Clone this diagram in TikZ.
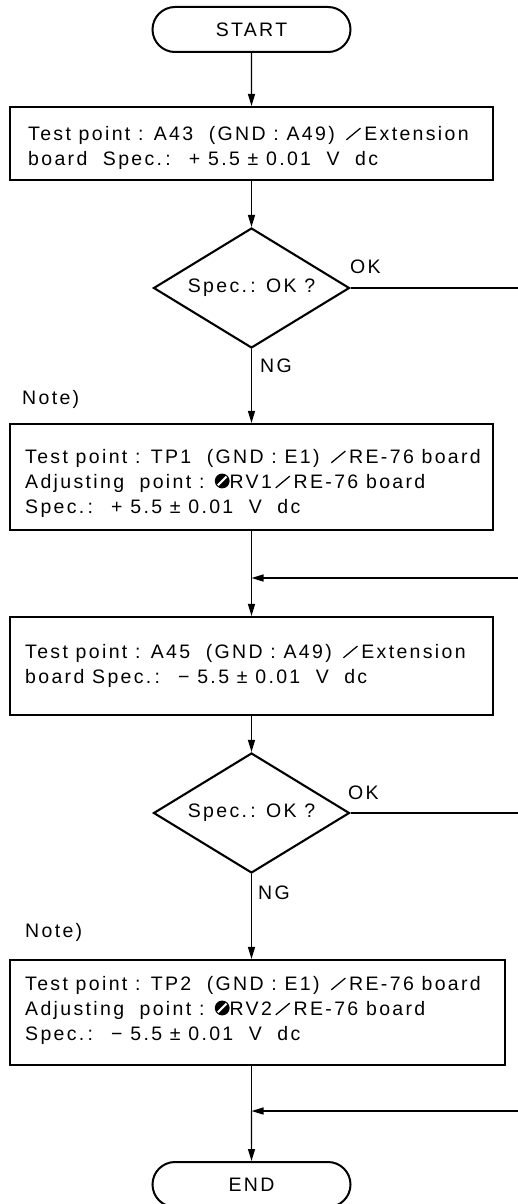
\documentclass[tikz,border=0pt]{standalone}
\usepackage{fontspec}
\setmainfont{Liberation Sans}[LetterSpace=12]
\usetikzlibrary{shapes.geometric,shapes.misc,arrows.meta}
\newcommand\adjsym{\tikz[baseline=-0.37em]{\fill[black] (0,0) circle (0.38em); \draw[white,line width=0.11em] (-0.22em,-0.22em)--(0.22em,0.22em);}}
\newcommand\wsl{\,\tikz[baseline=0pt]{\draw[line width=0.065em] (0,0.02em)--(0.72em,0.62em);}\,}
\newcommand\fl{\rule{0pt}{15pt}}
\begin{document}
\begin{tikzpicture}[x=1pt,y=-1pt,
  every node/.style={font=\fontsize{19.5}{25}\selectfont},
  term/.style={draw, line width=2pt, rounded rectangle, minimum width=198pt, minimum height=45pt, inner sep=0},
  box/.style={draw, line width=2.1pt, rectangle, inner sep=0},
  dec/.style={draw, line width=2.1pt, diamond, aspect=1.633, minimum width=196pt, minimum height=120pt, inner sep=0},
  flow/.style={line width=1.3pt},
  arr/.style={flow, -{Triangle[length=12pt,width=7pt]}},
  txt/.style={anchor=north west, inner sep=0, align=left},
  lbl/.style={anchor=base west, inner sep=0}]
\clip (0,0) rectangle (518,1204);
% nodes
\node[term] (start) at (251.5,29.5) {START};
\node[box, minimum width=483pt, minimum height=73pt] (b1) at (251.5,143.5) {};
\node[txt] (t1) at (28,125) {\fl Test point : A43 \ (GND : A49) \wsl Extension\\board \ Spec.\,: \ + 5.5 ± 0.01 \ V \ dc};
\node[dec] (d1) at (251.5,288) {Spec.\,: OK ?};
\node[lbl] (ok1l) at (350,273) {OK};
\node[lbl] (ng1l) at (260,372) {NG};
\node[lbl] (note1) at (22,404) {Note)};
\node[box, minimum width=483pt, minimum height=106pt] (b2) at (251.5,477) {};
\node[txt] (t2) at (25,448) {\fl Test point : TP1 \ (GND : E1) \wsl RE-76 board\\Adjusting \ point : \adjsym RV1\wsl RE-76 board\\Spec.\,: \ + 5.5 ± 0.01 \ V \ dc};
\node[box, minimum width=483pt, minimum height=98pt] (b3) at (251.5,666) {};
\node[txt] (t3) at (25,643) {\fl Test point : A45 \ (GND : A49) \wsl Extension\\board Spec.\,: \ − 5.5 ± 0.01 \ V \ dc};
\node[dec] (d2) at (251.5,813) {Spec.\,: OK ?};
\node[lbl] (ok2l) at (348,799) {OK};
\node[lbl] (ng2l) at (258,899) {NG};
\node[lbl] (note2) at (25,937) {Note)};
\node[box, minimum width=495pt, minimum height=105pt] (b4) at (257.5,1012.5) {};
\node[txt] (t4) at (25,975) {\fl Test point : TP2 \ (GND : E1) \wsl RE-76 board\\Adjusting \ point : \adjsym RV2\wsl RE-76 board\\Spec.\,: \ − 5.5 ± 0.01 \ V \ dc};
\node[term] (end) at (251.5,1184.5) {END};
% coordinates
\coordinate (ok1) at (518,288);
\coordinate (ret1) at (518,578);
\coordinate (m1) at (251.5,578);
\coordinate (ok2) at (518,813);
\coordinate (ret2) at (518,1111);
\coordinate (m2) at (251.5,1111);
% connectors
\draw[arr] (start) -- (b1);
\draw[arr] (b1) -- (d1);
\draw[arr] (d1) -- (b2);
\draw[flow] (d1.east) -- (ok1);
\draw[flow] (b2) -- (m1);
\draw[arr] (ret1) -- (m1);
\draw[arr] (m1) -- (b3);
\draw[arr] (b3) -- (d2);
\draw[arr] (d2.south) -- (d2.south |- b4.north);
\draw[flow] (d2.east) -- (ok2);
\draw[flow] (d2.south |- b4.south) -- (m2);
\draw[arr] (ret2) -- (m2);
\draw[arr] (m2) -- (end);
\end{tikzpicture}
\end{document}
